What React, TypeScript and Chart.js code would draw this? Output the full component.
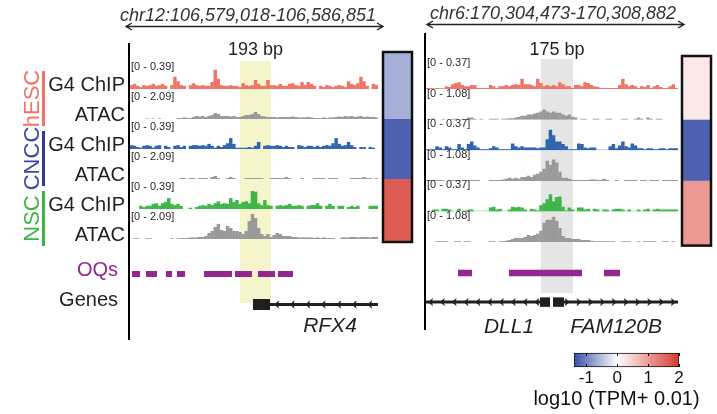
import React, { useEffect, useRef } from 'react';
import { Chart, registerables } from 'chart.js';

Chart.register(...registerables);

const FONT = '"Liberation Sans", Arial, Helvetica, sans-serif';
Chart.defaults.font.family = FONT;
const INK = '#231F20';

// ---------------- shared track annotation ----------------
const trackNames = ['G4 ChIP', 'ATAC', 'G4 ChIP', 'ATAC', 'G4 ChIP', 'ATAC'];
const cellTypes = ['hESC', 'CNCC', 'NSC'];
const cellTextColors = ['#F07468', '#3B4BA3', '#3DB54A'];
const cellBarColors = ['#F07468', '#2E3A94', '#3DB54A'];
const trackColors = ['#F07468', '#9A9A9A', '#3164AE', '#9A9A9A', '#3EB649', '#9A9A9A'];
const OQ_COLOR = '#93278F';

// expression colour scale, log10 (TPM + 0.01)
const cbStopValues = [-1.4, 0, 2];
const cbStopColors = ['#3A50A8', '#FFFFFF', '#D63A30'];
const cbTickValues = [-1, 0, 1, 2];
const cbTitle = 'log10 (TPM+ 0.01)';

// ---------------- left panel: chr12 / RFX4 ----------------
const leftRegionLabel = 'chr12:106,579,018-106,586,851';
const leftStart = 106579018;
const leftEnd = 106586851;
const leftHighlight = [106582492, 106583471];
const leftHighlightLabel = '193 bp';
const leftRanges = [0.39, 2.09, 0.39, 2.09, 0.39, 2.09];

const leftHescG4 = [
  0.06, 0.08, 0.05, 0.03, 0.06, 0.05, 0.06, 0.08, 0.05, 0.06,
  0.08, 0.05, 0, 0.06, 0.19, 0.12, 0.06, 0.05, 0, 0.06,
  0.09, 0.06, 0.05, 0.06, 0.05, 0.05, 0.11, 0.3, 0.16, 0.06,
  0.05, 0.05, 0.06, 0.05, 0.05, 0.03, 0.09, 0.06, 0.05, 0.06,
  0.14, 0.08, 0.05, 0.05, 0.14, 0.06, 0.06, 0.05, 0.08, 0.05,
  0.05, 0.08, 0.09, 0.06, 0.05, 0.11, 0.06, 0.11, 0.08, 0.05,
  0, 0.05, 0.03, 0.06, 0.05, 0.03, 0.05, 0.06, 0.05, 0.03,
  0.12, 0.08, 0.06, 0.09, 0.19, 0.12, 0.05, 0, 0.08, 0.06,
];
const leftHescAtac = [
  0, 0, 0, 0, 0, 0.05, 0, 0.05, 0, 0.05,
  0, 0, 0, 0, 0, 0.08, 0.08, 0.13, 0.08, 0.08,
  0.17, 0.25, 0.21, 0.25, 0.17, 0.25, 0.33, 0.5, 0.42, 0.25,
  0.25, 0.25, 0.21, 0.25, 0.17, 0.17, 0.25, 0.33, 0.33, 0.42,
  0.59, 0.42, 0.25, 0.21, 0.17, 0.17, 0.17, 0.13, 0.17, 0.17,
  0.17, 0.17, 0.21, 0.17, 0.13, 0.13, 0.13, 0.17, 0.13, 0.08,
  0.08, 0.08, 0.13, 0.08, 0.13, 0.13, 0.17, 0.21, 0.17, 0.25,
  0.21, 0.25, 0.17, 0.21, 0.25, 0.17, 0.21, 0.17, 0.17, 0.13,
];
const leftCnccG4 = [
  0.06, 0.05, 0.03, 0.02, 0.05, 0.06, 0.05, 0.02, 0.05, 0.06,
  0, 0.05, 0.03, 0, 0.05, 0.06, 0.03, 0.05, 0, 0.05,
  0.06, 0.06, 0.05, 0.06, 0.05, 0.08, 0.05, 0.02, 0.05, 0.03,
  0.06, 0.09, 0.17, 0.08, 0.02, 0.02, 0.02, 0.02, 0.03, 0.02,
  0.05, 0.11, 0, 0.05, 0.06, 0.05, 0.05, 0.06, 0.05, 0.03,
  0.05, 0.03, 0.03, 0, 0.06, 0.05, 0.03, 0.05, 0.05, 0.03,
  0.05, 0.03, 0.05, 0.06, 0.05, 0.09, 0.17, 0.08, 0.05, 0.06,
  0.11, 0.06, 0.03, 0, 0.03, 0.03, 0, 0.03, 0.02, 0,
];
const leftCnccAtac = [
  0, 0, 0, 0, 0, 0, 0, 0, 0, 0,
  0, 0, 0, 0, 0, 0, 0.08, 0.08, 0, 0.08,
  0.08, 0, 0.08, 0.08, 0.08, 0, 0.17, 0.25, 0.08, 0,
  0, 0.08, 0.17, 0.08, 0, 0, 0, 0.08, 0.08, 0.08,
  0.08, 0.08, 0.08, 0, 0, 0.08, 0.08, 0.08, 0.08, 0.08,
  0.17, 0.08, 0, 0, 0, 0.08, 0, 0, 0, 0.08,
  0.08, 0.08, 0.08, 0, 0.08, 0.08, 0.08, 0, 0, 0,
  0, 0.08, 0.08, 0.08, 0.08, 0.17, 0.08, 0.08, 0, 0.08,
];
const leftNscG4 = [
  0, 0, 0, 0.05, 0.03, 0.05, 0.05, 0.08, 0.09, 0.05,
  0.09, 0.11, 0.17, 0.08, 0.06, 0.08, 0.05, 0, 0, 0.02,
  0, 0.03, 0.05, 0.06, 0.05, 0.08, 0.06, 0.09, 0.12, 0.08,
  0.09, 0.08, 0.17, 0.11, 0.14, 0.08, 0.11, 0.12, 0.09, 0.28,
  0.27, 0.09, 0.06, 0.14, 0.06, 0.05, 0, 0.05, 0.06, 0.05,
  0.06, 0.08, 0.05, 0.05, 0.06, 0.05, 0, 0.05, 0.06, 0.06,
  0.09, 0.05, 0, 0.05, 0.08, 0.05, 0, 0.05, 0.05, 0,
  0.03, 0.05, 0.03, 0.05, 0, 0, 0, 0.05, 0.05, 0.05,
];
const leftNscAtac = [
  0, 0.06, 0.06, 0, 0, 0.06, 0.06, 0, 0, 0,
  0, 0, 0, 0.06, 0, 0.06, 0.08, 0.08, 0.08, 0.13,
  0.13, 0.13, 0.17, 0.17, 0.25, 0.5, 0.67, 1.0, 1.25, 0.75,
  0.67, 1.09, 0.92, 0.67, 0.67, 0.59, 0.42, 0.67, 1.5, 2.09,
  1.76, 0.92, 0.42, 0.25, 0.42, 0.17, 0.33, 0.5, 0.42, 0.25,
  0.25, 0.25, 0.17, 0.17, 0.13, 0.13, 0.13, 0.13, 0.13, 0.08,
  0.13, 0.08, 0.13, 0.08, 0.08, 0.08, 0, 0, 0.13, 0.13,
  0.13, 0.17, 0.17, 0.13, 0.17, 0.17, 0.17, 0.13, 0.17, 0.17,
];
const leftOQs = [
  [106579081, 106579334], [106579523, 106579871], [106580155, 106580344], [106580502, 106580755],
  [106581355, 106582239], [106582334, 106582871], [106583060, 106583597], [106583692, 106584166],
];
const leftGeneNames = ['RFX4'];
const leftGeneSpans = [[106582902, 106586851]];
const leftGeneExons = [[106582902, 106583439]];
const leftGeneStrands = ['-'];
const leftGeneLabelPos = [106585334];
const leftExpression = [-0.64, -1.26, 1.64]; // hESC, CNCC, NSC

// ---------------- right panel: chr6 / DLL1, FAM120B ----------------
const rightRegionLabel = 'chr6:170,304,473-170,308,882';
const rightStart = 170304473;
const rightEnd = 170308882;
const rightHighlight = [170306485, 170307045];
const rightHighlightLabel = '175 bp';
const rightRanges = [0.37, 1.08, 0.37, 1.08, 0.37, 1.08];

const rightHescG4 = [
  0.015, 0.015, 0.01, 0.015, 0.01, 0.01, 0.04, 0.03, 0.07, 0.09,
  0.1, 0.06, 0.04, 0.04, 0.06, 0.06, 0.015, 0.015, 0.015, 0.015,
  0.06, 0.04, 0.015, 0.04, 0.04, 0.06, 0.04, 0.06, 0.07, 0.06,
  0.15, 0.07, 0.07, 0.06, 0.04, 0.15, 0.09, 0.04, 0.06, 0.04,
  0.06, 0.04, 0.1, 0.07, 0.04, 0.04, 0.015, 0.06, 0.06, 0.04,
  0.1, 0.09, 0.06, 0.04, 0.03, 0.015, 0.015, 0.015, 0.015, 0.015,
  0.015, 0.06, 0.15, 0.07, 0.04, 0.06, 0.04, 0.015, 0.04, 0.03,
  0.06, 0.015, 0.04, 0.06, 0.03, 0.015, 0.015, 0.04, 0.07, 0.015,
];
const rightHescAtac = [
  0, 0.04, 0.04, 0, 0, 0.03, 0, 0, 0.04, 0.04,
  0, 0, 0, 0.09, 0.09, 0.04, 0, 0.04, 0, 0,
  0.04, 0.04, 0.04, 0, 0.04, 0.04, 0.06, 0.06, 0.09, 0.13,
  0.17, 0.17, 0.22, 0.22, 0.26, 0.3, 0.35, 0.43, 0.35, 0.3,
  0.35, 0.3, 0.3, 0.22, 0.17, 0.22, 0.13, 0.09, 0, 0.04,
  0.04, 0, 0, 0.04, 0.04, 0, 0, 0.04, 0.04, 0,
  0, 0, 0.04, 0.04, 0, 0, 0.04, 0.09, 0.04, 0,
  0.09, 0.04, 0, 0.04, 0.04, 0, 0, 0, 0, 0,
];
const rightCnccG4 = [
  0.015, 0.015, 0.015, 0.06, 0.04, 0.015, 0.06, 0.04, 0.015, 0.015,
  0.09, 0.04, 0.015, 0.09, 0.13, 0.07, 0.04, 0.015, 0.015, 0.015,
  0.03, 0.06, 0.04, 0.015, 0.015, 0.015, 0.015, 0.1, 0.06, 0.04,
  0.06, 0.04, 0.04, 0.04, 0.04, 0.03, 0.04, 0.04, 0.16, 0.3,
  0.22, 0.13, 0.13, 0.09, 0.06, 0.015, 0.015, 0.015, 0.1, 0.09,
  0.04, 0.03, 0.04, 0.04, 0, 0, 0, 0, 0.06, 0.09,
  0.03, 0.07, 0.13, 0.06, 0.04, 0.1, 0.07, 0.03, 0.03, 0.015,
  0.03, 0.03, 0.015, 0.015, 0.03, 0.03, 0.015, 0.03, 0.03, 0.03,
];
const rightCnccAtac = [
  0.04, 0.04, 0.04, 0.04, 0.04, 0.03, 0, 0, 0.04, 0.04,
  0.04, 0, 0, 0, 0.04, 0.04, 0.04, 0, 0, 0,
  0.04, 0.04, 0.04, 0.04, 0.06, 0.09, 0.13, 0.09, 0.13, 0.09,
  0.17, 0.17, 0.22, 0.17, 0.26, 0.3, 0.39, 0.52, 0.86, 0.69,
  0.91, 0.78, 0.39, 0.13, 0.13, 0.09, 0.04, 0.04, 0.04, 0.04,
  0.04, 0.04, 0.06, 0.06, 0.04, 0.04, 0.09, 0.04, 0, 0,
  0.04, 0, 0, 0.04, 0.04, 0.04, 0.04, 0, 0.04, 0.04,
  0, 0.04, 0.04, 0.04, 0, 0.04, 0.04, 0.04, 0.04, 0.04,
];
const rightNscG4 = [
  0, 0, 0.03, 0.03, 0, 0.04, 0.04, 0.03, 0, 0,
  0.04, 0, 0, 0.03, 0.03, 0, 0, 0, 0, 0,
  0.06, 0.07, 0.03, 0.04, 0, 0, 0.03, 0.07, 0.06, 0.07,
  0.06, 0.03, 0, 0.04, 0.03, 0.015, 0.09, 0.12, 0.18, 0.25,
  0.15, 0.21, 0.22, 0.07, 0.015, 0.06, 0.03, 0, 0.06, 0.06,
  0.03, 0.04, 0, 0.04, 0.03, 0, 0.03, 0.03, 0, 0.03,
  0.04, 0.04, 0.03, 0, 0.03, 0, 0, 0.03, 0, 0.03,
  0.04, 0, 0.03, 0.04, 0.03, 0.03, 0.03, 0.03, 0.03, 0.03,
];
const rightNscAtac = [
  0, 0, 0, 0.04, 0.04, 0.04, 0.04, 0, 0, 0.04,
  0.04, 0, 0.04, 0.04, 0, 0, 0, 0, 0, 0,
  0.04, 0.04, 0, 0.04, 0.04, 0.06, 0.09, 0.13, 0.17, 0.17,
  0.17, 0.22, 0.3, 0.26, 0.3, 0.35, 0.48, 0.82, 0.95, 0.95,
  1.08, 0.91, 0.6, 0.26, 0.17, 0.17, 0.13, 0.13, 0.13, 0.09,
  0.09, 0.09, 0.06, 0.04, 0.04, 0.04, 0.04, 0.04, 0.04, 0.04,
  0, 0, 0.04, 0.04, 0.04, 0, 0, 0.04, 0, 0.04,
  0.04, 0.04, 0.04, 0, 0, 0.04, 0.04, 0, 0.04, 0,
];
const rightOQs = [[170305033, 170305278], [170305925, 170307202], [170307587, 170307867]];
const rightGeneNames = ['DLL1', 'FAM120B'];
const rightGeneSpans = [[170304473, 170306643], [170306695, 170308882]];
const rightGeneExons = [[170306468, 170306643], [170306695, 170306887]];
const rightGeneStrands = ['-', '+'];
const rightGeneLabelPos = [170305926, 170307798];
const rightExpression = [0.22, -1.26, 1.04]; // hESC, CNCC, NSC

// ---------------- layout (pixels) ----------------
const leftLayout = {
  left: 0, width: 420, padL: 130, padR: 42, padT: 59, padB: 94,
  rowH: 30, peakH: 25, spacerH: 20, oqH: 30, geneH: 31,
  rangeLabelDy: 8, hlTop: 2, hlBottom: 14, bpLabelY: 50,
  lineTop: 43, lineBottom: 340, titleY: 15.5, titleDx: -6, arrowY: 26.5, arrowL: -4, arrowR: 5,
  geneLabelDy: 22, chevronStep: 15.5, chevronOffset: 7, exonH: 11, oqW: 6,
  boxGap: 5, boxW: 29, boxTopPad: 7, boxBotPad: 3, baselines: false, rowLabels: true,
  highlightColor: '#F5F5CB',
};
const rightLayout = {
  left: 420, width: 297, padL: 6, padR: 39, padT: 58.5, padB: 97.9,
  rowH: 30.6, peakH: 25.4, spacerH: 16, oqH: 30, geneH: 28,
  rangeLabelDy: 4.5, hlTop: 0.5, hlBottom: 5, bpLabelY: 50,
  lineTop: 33, lineBottom: 330, titleY: 13.5, titleDx: 1, arrowY: 24.5, arrowL: 1, arrowR: 6,
  geneLabelDy: 25, chevronStep: 11.8, chevronOffset: 3, exonH: 9.5, oqW: 6.5,
  boxGap: 4, boxW: 29, boxTopPad: 2.5, boxBotPad: 3.5, baselines: true, rowLabels: false,
  highlightColor: '#E6E6E6',
};
const baselineColors = ['#F7C4BF', null, '#C3D2EA', null, '#C6EAC9', null];

const leftPanel = {
  region: leftRegionLabel, start: leftStart, end: leftEnd,
  highlight: leftHighlight, highlightLabel: leftHighlightLabel, ranges: leftRanges,
  tracks: [leftHescG4, leftHescAtac, leftCnccG4, leftCnccAtac, leftNscG4, leftNscAtac],
  oqs: leftOQs, names: leftGeneNames, spans: leftGeneSpans, exons: leftGeneExons,
  strands: leftGeneStrands, labelPos: leftGeneLabelPos, expression: leftExpression,
};
const rightPanel = {
  region: rightRegionLabel, start: rightStart, end: rightEnd,
  highlight: rightHighlight, highlightLabel: rightHighlightLabel, ranges: rightRanges,
  tracks: [rightHescG4, rightHescAtac, rightCnccG4, rightCnccAtac, rightNscG4, rightNscAtac],
  oqs: rightOQs, names: rightGeneNames, spans: rightGeneSpans, exons: rightGeneExons,
  strands: rightGeneStrands, labelPos: rightGeneLabelPos, expression: rightExpression,
};

// ---------------- helpers ----------------
function hexToRgb(h: string) {
  const n = parseInt(h.slice(1), 16);
  return [(n >> 16) & 255, (n >> 8) & 255, n & 255];
}
function colorFor(v: number) {
  let i = 0;
  while (i < cbStopValues.length - 2 && v > cbStopValues[i + 1]) i++;
  let t = (v - cbStopValues[i]) / (cbStopValues[i + 1] - cbStopValues[i]);
  t = Math.max(0, Math.min(1, t));
  const a = hexToRgb(cbStopColors[i]);
  const b = hexToRgb(cbStopColors[i + 1]);
  const c = a.map((x, k) => Math.round(x + (b[k] - x) * t));
  return `rgb(${c[0]},${c[1]},${c[2]})`;
}
function drawText(ctx: CanvasRenderingContext2D, s: string, x: number, y: number, size: number, color: string,
  align: CanvasTextAlign = 'left', italic = false) {
  ctx.save();
  ctx.font = `${italic ? 'italic ' : ''}${size}px ${FONT}`;
  ctx.fillStyle = color;
  ctx.textAlign = align;
  ctx.textBaseline = 'middle';
  ctx.fillText(s, x, y);
  ctx.restore();
}
function chevron(ctx: CanvasRenderingContext2D, x: number, y: number, dir: number) {
  ctx.beginPath();
  ctx.moveTo(x + 2.8 * dir, y);
  ctx.lineTo(x - 2.2 * dir, y - 4.2);
  ctx.lineTo(x - 1.0 * dir, y);
  ctx.lineTo(x - 2.2 * dir, y + 4.2);
  ctx.closePath();
  ctx.fill();
}

function makePanelPlugin(P: any, L: any) {
  return {
    id: 'panelDecor',
    beforeDatasetsDraw(chart: any) {
      const { ctx, chartArea: ca, scales } = chart;
      const xs = scales.x;
      const hx0 = xs.getPixelForValue(P.highlight[0]);
      const hx1 = xs.getPixelForValue(P.highlight[1]);
      const top = scales.y0.top + L.hlTop;
      const bottom = scales.yGene.top + L.hlBottom;
      ctx.save();
      ctx.fillStyle = L.highlightColor;
      ctx.fillRect(hx0, top, hx1 - hx0, bottom - top);
      if (L.baselines) {
        baselineColors.forEach((c, k) => {
          if (!c) return;
          const b = scales['y' + k].getPixelForValue(0);
          ctx.strokeStyle = c;
          ctx.lineWidth = 1.2;
          ctx.beginPath();
          ctx.moveTo(ca.left, b - 0.6);
          ctx.lineTo(ca.right, b - 0.6);
          ctx.stroke();
        });
      }
      ctx.restore();
      drawText(ctx, P.highlightLabel, (hx0 + hx1) / 2, L.bpLabelY, 18, INK, 'center');
    },
    afterDatasetsDraw(chart: any) {
      const { ctx, chartArea: ca, scales } = chart;
      const xs = scales.x;
      // data range labels
      P.ranges.forEach((r: number, k: number) => {
        drawText(ctx, `[0 - ${r.toFixed(2)}]`, ca.left + 1, scales['y' + k].top + L.rangeLabelDy, 11, INK);
      });
      ctx.save();
      // panel rule
      ctx.fillStyle = '#000';
      ctx.fillRect(ca.left - 2, L.lineTop, 2, L.lineBottom - L.lineTop);
      // region title and double arrow
      const cx = (ca.left + ca.right) / 2 + L.titleDx;
      drawText(ctx, P.region, cx, L.titleY, 18, '#333', 'center', true);
      const ax0 = ca.left + L.arrowL;
      const ax1 = ca.right + L.arrowR;
      ctx.strokeStyle = '#222';
      ctx.lineWidth = 1.4;
      ctx.beginPath();
      ctx.moveTo(ax0, L.arrowY); ctx.lineTo(ax1, L.arrowY);
      ctx.moveTo(ax0 + 6, L.arrowY - 3.5); ctx.lineTo(ax0, L.arrowY); ctx.lineTo(ax0 + 6, L.arrowY + 3.5);
      ctx.moveTo(ax1 - 6, L.arrowY - 3.5); ctx.lineTo(ax1, L.arrowY); ctx.lineTo(ax1 - 6, L.arrowY + 3.5);
      ctx.stroke();
      // gene strand chevrons and names
      const gy = scales.yGene.getPixelForValue(0);
      ctx.fillStyle = INK;
      P.names.forEach((name: string, i: number) => {
        const ex0 = xs.getPixelForValue(P.exons[i][0]);
        const ex1 = xs.getPixelForValue(P.exons[i][1]);
        const s0 = Math.max(xs.getPixelForValue(P.spans[i][0]), ca.left);
        const s1 = Math.min(xs.getPixelForValue(P.spans[i][1]), ca.right);
        const dir = P.strands[i] === '+' ? 1 : -1;
        for (let x = ex0 - L.chevronOffset; x > s0 + 2; x -= L.chevronStep) chevron(ctx, x, gy, dir);
        for (let x = ex1 + L.chevronOffset; x < s1 - 1; x += L.chevronStep) chevron(ctx, x, gy, dir);
        drawText(ctx, name, xs.getPixelForValue(P.labelPos[i]), gy + L.geneLabelDy, 21, INK, 'center', true);
      });
      // expression heat box
      const bx = ca.right + L.boxGap;
      const yb = [scales.y0.top - L.boxTopPad, scales.y1.bottom, scales.y3.bottom, scales.y5.bottom + L.boxBotPad];
      P.expression.forEach((v: number, i: number) => {
        ctx.fillStyle = colorFor(v);
        ctx.fillRect(bx, yb[i], L.boxW, yb[i + 1] - yb[i]);
      });
      ctx.strokeStyle = '#111';
      ctx.lineWidth = 2.5;
      ctx.strokeRect(bx, yb[0], L.boxW, yb[3] - yb[0]);
      // row labels (left panel only)
      if (L.rowLabels) {
        trackNames.forEach((n, k) => drawText(ctx, n, ca.left - 5, scales['y' + k].bottom - 3.5, 20, INK, 'right'));
        cellTypes.forEach((c, g) => {
          const a = scales['y' + 2 * g].bottom - 18;
          const b = scales['y' + (2 * g + 1)].bottom + 7;
          ctx.fillStyle = cellBarColors[g];
          ctx.fillRect(42, a, 3, b - a);
          ctx.save();
          ctx.translate(38.5, (a + b) / 2);
          ctx.rotate(-Math.PI / 2);
          ctx.font = `22px ${FONT}`;
          ctx.fillStyle = cellTextColors[g];
          ctx.textAlign = 'center';
          ctx.textBaseline = 'alphabetic';
          ctx.fillText(c, 0, 0);
          ctx.restore();
        });
        drawText(ctx, 'OQs', 118, scales.yOQ.getPixelForValue(0) - 4, 20, OQ_COLOR, 'right');
        drawText(ctx, 'Genes', 118, gy - 4.5, 20, INK, 'right');
      }
      ctx.restore();
    },
  };
}

function panelConfig(P: any, L: any): any {
  const nBins = P.tracks[0].length;
  const bin = (P.end - P.start) / nBins;
  const datasets: any[] = [];
  P.tracks.forEach((vals: number[], k: number) => {
    datasets.push({
      type: 'bar',
      data: vals.map((v, i) => ({ x: P.start + (i + 0.5) * bin, y: v > 0 ? v : null })),
      yAxisID: 'y' + k,
      backgroundColor: trackColors[k],
      borderWidth: 0,
      grouped: false,
      barPercentage: 1.12,
      categoryPercentage: 1,
    });
  });
  const oqData: any[] = [];
  P.oqs.forEach((o: number[]) => {
    oqData.push({ x: o[0], y: 0 }, { x: o[1], y: 0 }, { x: o[1], y: null });
  });
  datasets.push({
    type: 'line', data: oqData, yAxisID: 'yOQ', borderColor: OQ_COLOR, borderWidth: L.oqW,
    borderCapStyle: 'butt', pointRadius: 0, spanGaps: false, fill: false,
  });
  P.names.forEach((_: string, i: number) => {
    datasets.push({
      type: 'line', data: [{ x: P.spans[i][0], y: 0 }, { x: P.spans[i][1], y: 0 }], yAxisID: 'yGene',
      borderColor: INK, borderWidth: 3, pointRadius: 0, fill: false,
    });
    datasets.push({
      type: 'line', data: [{ x: P.exons[i][0], y: 0 }, { x: P.exons[i][1], y: 0 }], yAxisID: 'yGene',
      borderColor: INK, borderWidth: L.exonH, borderCapStyle: 'butt', pointRadius: 0, fill: false,
    });
  });
  const hidden = { display: false, position: 'right', stack: 'rows', offset: false, bounds: 'data' };
  const scales: any = {
    x: { type: 'linear', min: P.start, max: P.end, display: false, offset: false, bounds: 'data' },
  };
  P.ranges.forEach((r: number, k: number) => {
    scales['y' + k] = { ...hidden, type: 'linear', weight: k, stackWeight: L.rowH, min: 0, max: (r * L.rowH) / L.peakH };
  });
  scales.ySp = { ...hidden, type: 'linear', weight: 6, stackWeight: L.spacerH, min: 0, max: 1 };
  scales.yOQ = { ...hidden, type: 'linear', weight: 7, stackWeight: L.oqH, min: -1, max: 1 };
  scales.yGene = { ...hidden, type: 'linear', weight: 8, stackWeight: L.geneH, min: -1, max: 1 };
  return {
    type: 'bar',
    data: { datasets },
    options: {
      animation: false,
      responsive: false,
      events: [],
      layout: { padding: { left: L.padL, right: L.padR, top: L.padT, bottom: L.padB } },
      plugins: { legend: { display: false }, tooltip: { enabled: false } },
      scales,
    },
    plugins: [makePanelPlugin(P, L)],
  };
}

// colour-bar legend: canvas placed at page (520, 340), 197 x 74
function legendConfig(): any {
  const cbMin = cbStopValues[0];
  const cbMax = cbStopValues[cbStopValues.length - 1];
  return {
    type: 'bar',
    data: {
      labels: [''],
      datasets: [{
        data: [[cbMin, cbMax]],
        backgroundColor: (c: any) => {
          const chart = c.chart;
          const xs = chart.scales.x;
          if (!chart.chartArea || !xs) return '#fff';
          const x0 = xs.getPixelForValue(cbMin);
          const x1 = xs.getPixelForValue(cbMax);
          const g = chart.ctx.createLinearGradient(x0, 0, x1, 0);
          cbStopValues.forEach((v, i) => g.addColorStop((v - cbMin) / (cbMax - cbMin), cbStopColors[i]));
          return g;
        },
        borderColor: '#111',
        borderWidth: 1,
        borderSkipped: false,
        barThickness: 14,
      }],
    },
    options: {
      indexAxis: 'y',
      animation: false,
      responsive: false,
      events: [],
      layout: { padding: { left: 54, right: 38, top: 10, bottom: 27 } },
      plugins: { legend: { display: false }, tooltip: { enabled: false } },
      scales: {
        x: {
          type: 'linear', min: cbMin, max: cbMax, bounds: 'data', position: 'bottom',
          afterBuildTicks: (scale: any) => { scale.ticks = cbTickValues.map((value) => ({ value })); },
          grid: { display: false, drawTicks: false, tickLength: 0 },
          border: { display: false },
          ticks: { padding: 0, autoSkip: false, maxRotation: 0,
            color: '#111', font: { family: FONT, size: 17, lineHeight: 1.0 } },
        },
        y: { display: false },
      },
    },
    plugins: [{
      id: 'cbDecor',
      afterDatasetsDraw(chart: any) {
        const { ctx, chartArea: ca, scales } = chart;
        const bar = chart.getDatasetMeta(0).data[0];
        const top = bar.y - 7;
        const bottom = bar.y + 7;
        ctx.save();
        ctx.strokeStyle = '#111';
        ctx.lineWidth = 1;
        scales.x.ticks.forEach((t: any) => {
          const px = Math.round(scales.x.getPixelForValue(t.value)) + 0.5;
          ctx.beginPath();
          ctx.moveTo(px, top); ctx.lineTo(px, top + 3);
          ctx.moveTo(px, bottom - 3); ctx.lineTo(px, bottom);
          ctx.stroke();
        });
        ctx.restore();
        drawText(ctx, cbTitle, (ca.left + ca.right) / 2 - 10, 59, 20, '#111', 'center');
      },
    }],
  };
}

function ChartCanvas({ left, top, width, height, make }: any) {
  const ref = useRef<HTMLCanvasElement>(null);
  useEffect(() => {
    const chart = new Chart(ref.current as HTMLCanvasElement, make());
    return () => chart.destroy();
  }, []);
  return (
    <canvas ref={ref} width={width} height={height}
      style={{ position: 'absolute', left, top, width, height }} />
  );
}

export default function App() {
  useEffect(() => {
    document.body.style.margin = '0';
  }, []);
  return (
    <div style={{ position: 'absolute', left: 0, top: 0, width: 717, height: 414, overflow: 'hidden', background: '#fff' }}>
      <ChartCanvas left={leftLayout.left} top={0} width={leftLayout.width} height={414}
        make={() => panelConfig(leftPanel, leftLayout)} />
      <ChartCanvas left={rightLayout.left} top={0} width={rightLayout.width} height={414}
        make={() => panelConfig(rightPanel, rightLayout)} />
      <ChartCanvas left={520} top={340} width={197} height={74} make={legendConfig} />
    </div>
  );
}
